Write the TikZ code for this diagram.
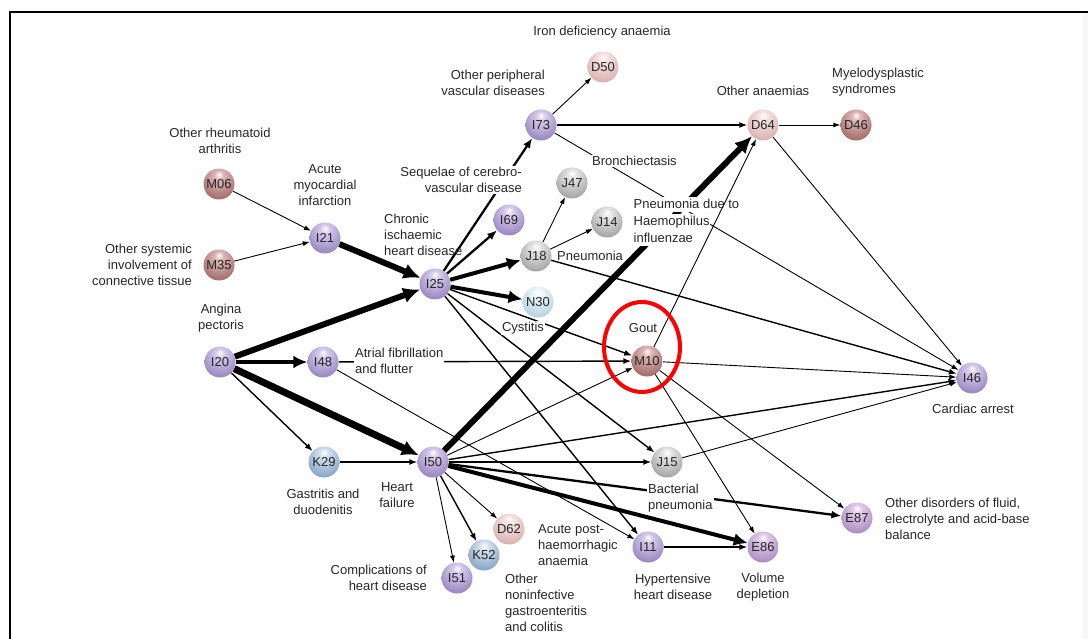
\documentclass[tikz,border=0pt]{standalone}
\usepackage{fontspec}
\setmainfont{Liberation Sans}
\usetikzlibrary{arrows.meta}

% sphere colour sets: light / mid / dark
\definecolor{Plight}{HTML}{D6CCEA}\definecolor{Pmid}{HTML}{9E8DC6}\definecolor{Pdark}{HTML}{6A5892}
\definecolor{Elight}{HTML}{E2CCE8}\definecolor{Emid}{HTML}{B194C6}\definecolor{Edark}{HTML}{7A5B8E}
\definecolor{Rlight}{HTML}{DDB8B6}\definecolor{Rmid}{HTML}{A97472}\definecolor{Rdark}{HTML}{6D4543}
\definecolor{Klight}{HTML}{F5E4E4}\definecolor{Kmid}{HTML}{DDB6B6}\definecolor{Kdark}{HTML}{A88181}
\definecolor{Glight}{HTML}{E6E6E6}\definecolor{Gmid}{HTML}{ABABAB}\definecolor{Gdark}{HTML}{6E6E6E}
\definecolor{Blight}{HTML}{D5E2EF}\definecolor{Bmid}{HTML}{8EABCA}\definecolor{Bdark}{HTML}{587493}
\definecolor{Clight}{HTML}{EEF6FA}\definecolor{Cmid}{HTML}{BCD6E5}\definecolor{Cdark}{HTML}{84A1B3}

\newcommand\mksphere[2]{%
  \pgfdeclareradialshading{#1}{\pgfpoint{0bp}{16bp}}{%
    color(0bp)=(white); color(7bp)=(#2light); color(30bp)=(#2mid);
    color(50bp)=(#2dark); color(66bp)=(#2mid)}}
\mksphere{sphP}{P}\mksphere{sphE}{E}\mksphere{sphR}{R}\mksphere{sphK}{K}
\mksphere{sphG}{G}\mksphere{sphB}{B}\mksphere{sphC}{C}

\pgfdeclarelayer{edges}
\pgfdeclarelayer{labels}
\pgfsetlayers{edges,labels,main}

\newcommand\lblfont{\fontsize{13}{16}\selectfont}
\newcommand\codefont{\fontsize{13}{15}\selectfont}

\begin{document}
\begin{tikzpicture}[x=1pt,y=-1pt,
  sph/.style={circle,minimum size=31pt,inner sep=0pt,font=\codefont,text=black!85},
  lab/.style={font=\lblfont,inner sep=1pt,text=black!85},
  labw/.style={lab,fill=white},
  w1/.style={line width=0.9pt,-{Latex[length=7pt,width=5pt]}},
  w2/.style={line width=1.4pt,-{Latex[length=8pt,width=6pt]}},
  w3/.style={line width=2.3pt,-{Latex[length=10pt,width=8pt]}},
  w4/.style={line width=4pt,-{Latex[length=14pt,width=13pt]}},
  w5/.style={line width=6pt,-{Latex[length=17pt,width=16pt]}},
  hilite/.style={draw=red,line width=4pt}]
\useasboundingbox (0,0) rectangle (1088,639);

% frame
\draw[line width=2pt] (10,640) -- (10,12) -- (1089,12);
\fill[black!3] (1083,13) rectangle (1088,639);

% disease nodes
\node[sph,shading=sphR] (M06) at (219,184) {M06};
\node[sph,shading=sphR] (M35) at (219,265) {M35};
\node[sph,shading=sphP] (I21) at (325,238) {I21};
\node[sph,shading=sphP] (I20) at (220,362) {I20};
\node[sph,shading=sphP] (I48) at (323,362) {I48};
\node[sph,shading=sphB] (K29) at (324,462) {K29};
\node[sph,shading=sphP] (I25) at (435,284) {I25};
\node[sph,shading=sphP] (I50) at (433,462) {I50};
\node[sph,shading=sphP] (I73) at (541,125) {I73};
\node[sph,shading=sphK] (D50) at (603,67) {D50};
\node[sph,shading=sphP] (I69) at (509,220) {I69};
\node[sph,shading=sphG] (J47) at (572,183) {J47};
\node[sph,shading=sphG] (J14) at (607,222) {J14};
\node[sph,shading=sphG] (J18) at (536,256) {J18};
\node[sph,shading=sphC] (N30) at (538,302) {N30};
\node[sph,shading=sphR] (M10) at (647,361) {M10};
\node[sph,shading=sphG] (J15) at (667,462) {J15};
\node[sph,shading=sphK] (D62) at (509,529) {D62};
\node[sph,shading=sphB] (K52) at (484,555) {K52};
\node[sph,shading=sphP] (I51) at (457,578) {I51};
\node[sph,shading=sphP] (I11) at (648,547) {I11};
\node[sph,shading=sphE] (E86) at (763,547) {E86};
\node[sph,shading=sphE] (E87) at (857,518) {E87};
\node[sph,shading=sphK] (D64) at (763,125) {D64};
\node[sph,shading=sphR] (D46) at (856,125) {D46};
\node[sph,shading=sphP] (I46) at (972,378) {I46};

% connections
\begin{pgfonlayer}{edges}
\draw[w1] (M06) -- (I21);
\draw[w1] (M35) -- (I21);
\draw[w5] (I21) -- (I25);
\draw[w5] (I20) -- (I25);
\draw[w4] (I20) -- (I48);
\draw[w5,line width=7pt] (I20) -- (I50);
\draw[w2] (I20) -- (K29);
\draw[w2] (K29) -- (I50);
\draw[w2] (I48) -- (M10);
\draw[w1] (I48) -- (I11);
\draw[w3] (I25) -- (I73);
\draw[w3] (I25) -- (I69);
\draw[w4] (I25) -- (J18);
\draw[w4] (I25) -- (N30);
\draw[w2] (I25) -- (M10);
\draw[w2] (I25) -- (J15);
\draw[w2] (I25) -- (I11);
\draw[w1] (I73) -- (D50);
\draw[w2] (I73) -- (D64);
\draw[w1] (I73) -- (I46);
\draw[w1] (J18) -- (J47);
\draw[w1] (J18) -- (J14);
\draw[w2] (J18) -- (I46);
\draw[w1] (D64) -- (D46);
\draw[w1] (D64) -- (I46);
\draw[w1] (M10) -- (I46);
\draw[w1] (M10) -- (E86);
\draw[w1] (M10) -- (E87);
\draw[w5] (I50) -- (D64);
\draw[w1] (I50) -- (M10);
\draw[w2] (I50) -- (I46);
\draw[w2] (I50) -- (J15);
\draw[w3] (I50) -- (E87);
\draw[w4] (I50) -- (E86);
\draw[w1] (I50) -- (D62);
\draw[w2] (I50) -- (K52);
\draw[w1] (I50) -- (I51);
\draw[w1] (J15) -- (I46);
\draw[w2] (I11) -- (E86);
\end{pgfonlayer}

% names of the conditions
\begin{pgfonlayer}{labels}
\node[lab] (tD50) at (602,32) {Iron deficiency anaemia};
\node[lab,align=right,anchor=east] (tI73) at (546,83) {Other peripheral\\vascular diseases};
\node[lab] (tD64) at (763,91) {Other anaemias};
\node[lab,align=left,anchor=west] (tD46) at (831,82) {Myelodysplastic\\syndromes};
\node[lab,align=center] (tM06) at (220,141) {Other rheumatoid\\arthritis};
\node[lab,align=center] (tI21) at (325,185) {Acute\\myocardial\\infarction};
\node[labw,align=right,anchor=east] (tI69) at (523,180) {Sequelae of cerebro-\\vascular disease};
\node[labw,anchor=west] (tJ47) at (591,161) {Bronchiectasis};
\node[lab,align=left,anchor=west] (tI25) at (383,235) {Chronic\\ischaemic\\heart disease};
% three masked lines, so that crossing links show between the words
\node[labw,anchor=base west,inner xsep=0.5pt,inner ysep=2.5pt] (tJ14a) at (633,209) {Pneumonia due to};
\node[labw,anchor=base west,inner xsep=0.5pt,inner ysep=2.5pt] (tJ14b) at (633,226) {Haemophilus};
\node[labw,anchor=base west,inner xsep=0.5pt,inner ysep=2.5pt] (tJ14c) at (633,243) {influenzae};
\node[lab,anchor=west] (tJ18) at (556,256) {Pneumonia};
\node[lab,align=right,anchor=east] (tM35) at (193,265) {Other systemic\\involvement of\\connective tissue};
\node[lab,align=center] (tI20) at (221,318) {Angina\\pectoris};
\node[labw] (tN30) at (523,328) {Cystitis};
\node[lab] (tM10) at (643,328) {Gout};
\node[labw,align=left,anchor=west] (tI48) at (354,361) {Atrial fibrillation\\and flutter};
\node[lab,align=center] (tK29) at (323,502) {Gastritis and\\duodenitis};
\node[lab,align=center] (tI50) at (397,495) {Heart\\failure};
\node[labw,align=left,anchor=west] (tJ15) at (647,498) {Bacterial\\pneumonia};
\node[lab,align=left,anchor=west] (tE87) at (884,519) {Other disorders of fluid,\\electrolyte and acid-base\\balance};
\node[lab] (tI46) at (973,409) {Cardiac arrest};
\node[lab,align=right,anchor=east] (tI51) at (428,578) {Complications of\\heart disease};
\node[lab,align=left,anchor=west] (tD62) at (537,545) {Acute post-\\haemorrhagic\\anaemia};
\node[lab,align=left,anchor=west] (tK52) at (504,603) {Other\\noninfective\\gastroenteritis\\and colitis};
\node[lab,align=center] (tI11) at (673,587) {Hypertensive\\heart disease};
\node[lab,align=center] (tE86) at (763,587) {Volume\\depletion};
\end{pgfonlayer}

% this link runs over the label it crosses
\draw[w1] (M10) -- (D64);

% highlight round gout
\draw[hilite] (642,347) ellipse [x radius=38, y radius=45];
\end{tikzpicture}
\end{document}
